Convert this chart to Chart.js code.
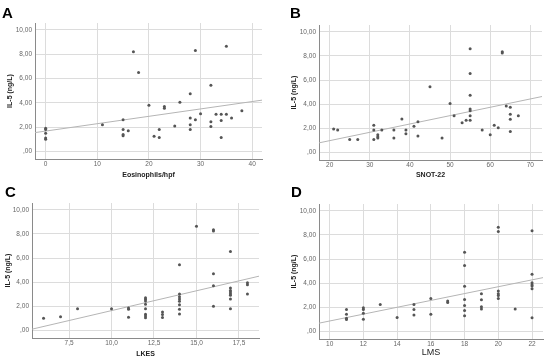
<!DOCTYPE html>
<html>
<head>
<meta charset="utf-8">
<script src="https://cdn.jsdelivr.net/npm/chart.js@4.4.0/dist/chart.umd.min.js"></script>
<style>
  body { margin: 0; background: #fff; }
  .panel { position: absolute; width: 275px; height: 179px; }
  .letter { position: absolute; font: bold 15px "Liberation Sans", Arial, sans-serif; color: #000; }
</style>
</head>
<body>
<div class="panel" style="left:0;top:0"><canvas id="chartA" width="275" height="179"></canvas></div>
<div class="panel" style="left:275px;top:0"><canvas id="chartB" width="275" height="179"></canvas></div>
<div class="panel" style="left:0;top:179px"><canvas id="chartC" width="275" height="179"></canvas></div>
<div class="panel" style="left:275px;top:179px"><canvas id="chartD" width="275" height="179"></canvas></div>
<div class="letter" style="left:2px;top:4px">A</div>
<div class="letter" style="left:290px;top:4px">B</div>
<div class="letter" style="left:5px;top:183px">C</div>
<div class="letter" style="left:291px;top:183px">D</div>
<script>
// y axis shared by all four plots
var yTicks = [0, 2, 4, 6, 8, 10];
var yTitle = "IL-5 (ng/L)";

// A - Eosinophils/hpf
var aX = [0, 0, 0, 0, 0, 11, 15, 15, 15, 15, 16, 17, 18, 20, 21, 22, 22, 23, 23, 25, 26, 28, 28, 28, 28, 29, 29, 30, 32, 32, 32, 33, 34, 34, 34, 35, 35, 36, 38];
var aY = [1.9, 1.8, 1.5, 1.1, 1.0, 2.2, 2.6, 1.8, 1.4, 1.3, 1.7, 8.2, 6.5, 3.8, 1.25, 1.8, 1.15, 3.7, 3.55, 2.1, 4.05, 4.75, 2.75, 2.2, 1.8, 8.3, 2.6, 3.1, 5.45, 2.45, 2.05, 3.05, 3.05, 2.55, 1.15, 8.65, 3.05, 2.75, 3.35];
var aTicks = [0, 10, 20, 30, 40];
var aFit = [1.675, 0.0607];

// B - SNOT-22
var bX = [21, 22, 25, 27, 31, 31, 31, 32, 32, 32, 33, 36, 36, 38, 39, 39, 41, 42, 42, 45, 48, 50, 51, 53, 54, 55, 55, 55, 55, 55, 55, 55, 58, 60, 61, 62, 63, 63, 64, 65, 65, 65, 65, 67];
var bY = [1.94, 1.86, 1.08, 1.08, 2.25, 1.86, 1.08, 1.47, 1.3, 1.2, 1.86, 1.86, 1.2, 2.78, 1.86, 1.55, 2.17, 2.55, 1.36, 5.44, 1.2, 4.05, 3.05, 2.47, 2.67, 8.6, 6.55, 4.75, 3.6, 3.45, 3.05, 2.67, 1.86, 1.47, 2.25, 2.05, 8.35, 8.25, 3.86, 3.75, 3.17, 2.75, 1.75, 3.05];
var bTicks = [20, 30, 40, 50, 60, 70];
var bFit = [-0.40, 0.0691];

// C - LKES
var cX = [6, 7, 8, 10, 11, 11, 11, 12, 12, 12, 12, 12, 12, 12, 12, 13, 13, 13, 14, 14, 14, 14, 14, 14, 14, 14, 15, 16, 16, 16, 16, 16, 17, 17, 17, 17, 17, 17, 17, 17, 18, 18, 18];
var cY = [1.02, 1.13, 1.81, 1.81, 1.87, 1.76, 1.1, 2.72, 2.58, 2.45, 2.17, 1.81, 1.35, 1.2, 1.05, 1.54, 1.32, 1.07, 5.44, 3.02, 2.8, 2.6, 2.42, 2.14, 1.76, 1.37, 8.63, 8.35, 8.24, 4.7, 3.71, 2.0, 6.54, 3.52, 3.32, 3.19, 3.05, 2.91, 2.61, 1.81, 3.96, 3.79, 3.02];
var cTicks = [7.5, 10, 12.5, 15, 17.5];
var cFit = [-1.638, 0.3286];

// D - LMS
var dX = [11, 11, 11, 11, 12, 12, 12, 12, 13, 14, 15, 15, 15, 16, 16, 17, 17, 18, 18, 18, 18, 18, 18, 18, 19, 19, 19, 19, 20, 20, 20, 20, 20, 20, 21, 22, 22, 22, 22, 22, 22, 22];
var dY = [1.83, 1.44, 1.1, 1.0, 1.97, 1.83, 1.52, 1.02, 2.24, 1.16, 2.24, 1.83, 1.36, 2.74, 1.44, 2.52, 2.41, 6.57, 5.46, 3.74, 2.66, 2.16, 1.75, 1.3, 3.13, 2.63, 2.05, 1.86, 8.64, 8.28, 3.35, 3.13, 2.99, 2.74, 1.86, 8.34, 4.74, 4.04, 3.88, 3.77, 3.55, 1.14];
var dTicks = [10, 12, 14, 16, 18, 20, 22];
var dFit = [-1.97, 0.284];

var font = '"Liberation Sans", Arial, sans-serif';

function comma(v, d) {
  var s = v.toFixed(d).replace('.', ',');
  return s.indexOf('0,') === 0 ? s.slice(1) : s;
}

function makePlot(id, xs, ys, fit, xTicks, xTitle, box) {
  var pts = xs.map(function (x, i) { return {x: x, y: ys[i]}; });
  var line = [box.xMin, box.xMax].map(function (x) { return {x: x, y: fit[0] + fit[1] * x}; });
  new Chart(id, {
    type: "scatter",
    data: {
      datasets: [{
        data: pts,
        backgroundColor: "#555",
        borderWidth: 0,
        pointRadius: 1.5
      }, {
        type: "line",
        data: line,
        borderColor: "#b5b5b5",
        borderWidth: 1,
        pointRadius: 0,
        fill: false
      }]
    },
    options: {
      responsive: false,
      animation: false,
      layout: {padding: {left: box.padLeft, right: 275 - box.right, top: box.top, bottom: 0}},
      plugins: {legend: {display: false}, tooltip: {enabled: false}},
      scales: {
        x: {
          type: "linear",
          min: box.xMin,
          max: box.xMax,
          afterBuildTicks: function (s) { s.ticks = xTicks.map(function (v) { return {value: v}; }); },
          afterFit: function (s) { s.height = 179 - box.bottom; },
          grid: {color: "#dcdcdc", drawTicks: false},
          border: {color: "#8a8a8a"},
          ticks: {
            padding: 1,
            color: "#666",
            font: {family: font, size: 6.5},
            callback: function (v) { return box.xDec ? comma(v, box.xDec) : String(v); }
          },
          title: {display: true, text: xTitle, color: "#222", padding: {top: box.xTitlePad || 2, bottom: 0},
            font: {family: font, size: box.xTitleSize || 7, weight: box.xTitleWeight || "bold"}}
        },
        y: {
          type: "linear",
          min: -0.62,
          max: 10.56,
          afterBuildTicks: function (s) { s.ticks = yTicks.map(function (v) { return {value: v}; }); },
          afterFit: function (s) { s.width = box.left - box.padLeft; },
          grid: {color: "#dcdcdc", drawTicks: false},
          border: {color: "#8a8a8a"},
          ticks: {
            padding: 3,
            color: "#666",
            font: {family: font, size: 6.5},
            callback: function (v) { return comma(v, 2); }
          },
          title: {display: true, text: yTitle, color: "#222", padding: {top: 0, bottom: 2},
            font: {family: font, size: 7, weight: "bold"}}
        }
      }
    }
  });
}

makePlot("chartA", aX, aY, aFit, aTicks, "Eosinophils/hpf",
  {xMin: -2.06, xMax: 41.9, left: 35, padLeft: 6, right: 262, top: 23, bottom: 159});
makePlot("chartB", bX, bY, bFit, bTicks, "SNOT-22",
  {xMin: 17.35, xMax: 72.9, left: 44, padLeft: 15, right: 267, top: 25, bottom: 160});
makePlot("chartC", cX, cY, cFit, cTicks, "LKES",
  {xMin: 5.32, xMax: 18.68, left: 32, padLeft: 4, right: 259, top: 24, bottom: 159, xDec: 1});
makePlot("chartD", dX, dY, dFit, dTicks, "LMS",
  {xMin: 9.37, xMax: 22.65, left: 44, padLeft: 15, right: 268, top: 25, bottom: 160,
   xTitleSize: 9, xTitleWeight: "normal", xTitlePad: 1});
</script>
</body>
</html>
